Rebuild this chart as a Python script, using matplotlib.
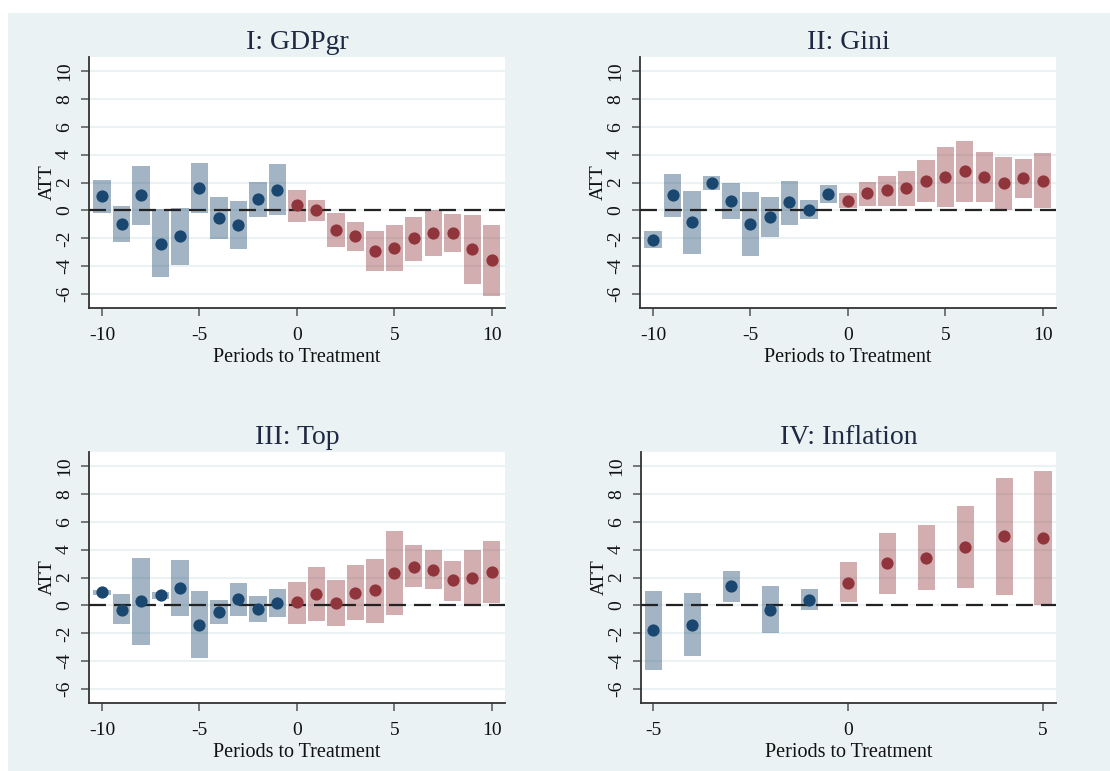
import matplotlib
matplotlib.use("Agg")
import matplotlib.pyplot as plt
from matplotlib.patches import Rectangle
import numpy as np

plt.rcParams["font.family"] = ["Liberation Serif", "DejaVu Serif"]
plt.rcParams["axes.unicode_minus"] = False

# ---- event-study estimates: point ATT and confidence bounds ----
periods_long = list(range(-10, 11))
periods_short = list(range(-5, 6))

gdp_att = [1.04, -0.95, 1.09, -2.40, -1.84, 1.59, -0.55, -1.03, 0.82, 1.47,
           0.37, 0.00, -1.44, -1.87, -2.90, -2.68, -2.00, -1.65, -1.60, -2.80, -3.57]
gdp_lo = [-0.16, -2.30, -1.03, -4.80, -3.90, -0.19, -2.08, -2.75, -0.47, -0.35,
          -0.80, -0.74, -2.61, -2.88, -4.37, -4.34, -3.62, -3.28, -2.97, -5.28, -6.17]
gdp_hi = [2.19, 0.32, 3.18, 0.10, 0.20, 3.42, 0.99, 0.68, 2.07, 3.30,
          1.47, 0.75, -0.21, -0.84, -1.50, -1.03, -0.45, 0.00, -0.28, -0.30, -1.05]

gini_att = [-2.10, 1.12, -0.86, 1.95, 0.67, -0.98, -0.50, 0.57, 0.05, 1.21,
            0.69, 1.24, 1.43, 1.60, 2.10, 2.38, 2.81, 2.40, 1.98, 2.31, 2.12]
gini_lo = [-2.69, -0.45, -3.14, 1.43, -0.64, -3.24, -1.90, -1.07, -0.62, 0.55,
           0.14, 0.33, 0.33, 0.33, 0.62, 0.24, 0.62, 0.62, 0.05, 0.88, 0.14]
gini_hi = [-1.50, 2.64, 1.40, 2.48, 1.98, 1.29, 0.93, 2.12, 0.76, 1.83,
           1.24, 2.07, 2.48, 2.86, 3.60, 4.55, 5.00, 4.21, 3.83, 3.67, 4.10]

top_att = [0.93, -0.30, 0.29, 0.72, 1.27, -1.39, -0.49, 0.48, -0.28, 0.17,
           0.22, 0.81, 0.17, 0.91, 1.07, 2.33, 2.78, 2.55, 1.81, 2.00, 2.38]
top_lo = [0.72, -1.35, -2.87, 0.48, -0.78, -3.77, -1.32, -0.75, -1.20, -0.82,
          -1.32, -1.13, -1.51, -1.06, -1.23, -0.68, 1.31, 1.17, 0.34, 0.10, 0.17]
top_hi = [1.12, 0.84, 3.42, 0.93, 3.28, 1.00, 0.36, 1.64, 0.69, 1.17,
          1.69, 2.74, 1.79, 2.88, 3.33, 5.30, 4.30, 3.95, 3.21, 3.95, 4.59]

infl_att = [-1.77, -1.39, 1.36, -0.33, 0.41, 1.64, 3.02, 3.43, 4.21, 4.97, 4.83]
infl_lo = [-4.65, -3.65, 0.24, -2.00, -0.35, 0.22, 0.84, 1.10, 1.26, 0.77, 0.00]
infl_hi = [1.05, 0.88, 2.50, 1.41, 1.15, 3.12, 5.18, 5.75, 7.10, 9.14, 9.67]

panel_titles = ["I: GDPgr", "II: Gini", "III: Top", "IV: Inflation"]
y_ticks = [-6, -4, -2, 0, 2, 4, 6, 8, 10]
x_ticks_long = [-10, -5, 0, 5, 10]
x_ticks_short = [-5, 0, 5]

# ---- styling ----
NAVY = "#1A476F"
MAROON = "#90353B"
BG = "#EAF2F3"
AXC = "#333333"

W, H = 1110, 771
fig = plt.figure(figsize=(W / 100, H / 100), dpi=100)
fig.patch.set_facecolor("white")
fig.add_artist(Rectangle((8 / W, 0), 1 - 8 / W, 1 - 13 / H,
                         transform=fig.transFigure, facecolor=BG,
                         edgecolor="none", zorder=-10))

# axes boxes in pixel coordinates: left, top, right, bottom
boxes = [(89, 57, 505, 308), (640, 57, 1056, 308),
         (89, 452, 505, 703), (641, 452, 1056, 703)]

panels = [
    (periods_long, gdp_att, gdp_lo, gdp_hi, 0.89, (-10.67, 10.68), x_ticks_long),
    (periods_long, gini_att, gini_lo, gini_hi, 0.89, (-10.67, 10.68), x_ticks_long),
    (periods_long, top_att, top_lo, top_hi, 0.89, (-10.67, 10.68), x_ticks_long),
    (periods_short, infl_att, infl_lo, infl_hi, 0.445, (-5.32, 5.33), x_ticks_short),
]

dash_lw = 1.6
for (l, t, r, b), title, (xs, att, lo, hi, bw, xlim, xt) in zip(boxes, panel_titles, panels):
    ax = fig.add_axes([l / W, 1 - b / H, (r - l) / W, (b - t) / H])
    ax.set_facecolor("white")
    xs = np.asarray(xs)
    att = np.asarray(att)
    lo = np.asarray(lo)
    hi = np.asarray(hi)
    pre = xs < 0
    post = ~pre

    ax.bar(xs[pre], hi[pre] - lo[pre], bottom=lo[pre], width=bw,
           color=NAVY, alpha=0.4, linewidth=0, zorder=2)
    ax.bar(xs[post], hi[post] - lo[post], bottom=lo[post], width=bw,
           color=MAROON, alpha=0.4, linewidth=0, zorder=2)
    ax.axhline(0, color="#222222", lw=dash_lw,
               dashes=(12.2 / dash_lw, 5.8 / dash_lw), zorder=3)
    ax.plot(xs[pre], att[pre], "o", color=NAVY, ms=8.8, mew=0, zorder=4)
    ax.plot(xs[post], att[post], "o", color=MAROON, ms=8.8, mew=0, zorder=4)

    ax.set_xlim(*xlim)
    ax.set_ylim(-7.0, 11.0)
    ax.set_xticks(xt)
    ax.set_yticks(y_ticks)
    ax.yaxis.grid(True, color=BG, lw=1.5, zorder=0)
    ax.set_axisbelow(True)

    for side in ("top", "right"):
        ax.spines[side].set_visible(False)
    for side in ("left", "bottom"):
        ax.spines[side].set_color(AXC)
        ax.spines[side].set_linewidth(1.3)

    ax.tick_params(axis="both", direction="out", length=5.5, width=1.1,
                   color="#555555", labelsize=14, labelcolor="#111111", pad=8)
    ax.tick_params(axis="y", labelrotation=90, pad=6)
    for lab in ax.get_yticklabels():
        lab.set_va("center")

    ax.set_title(title, fontsize=20, color="#1E2A44", pad=6)
    ax.set_xlabel("Periods to Treatment", fontsize=14.5, color="#111111", labelpad=3)
    ax.set_ylabel("ATT", fontsize=14, color="#111111", labelpad=0)

fig.savefig("out.png", dpi=100, facecolor=fig.get_facecolor())
